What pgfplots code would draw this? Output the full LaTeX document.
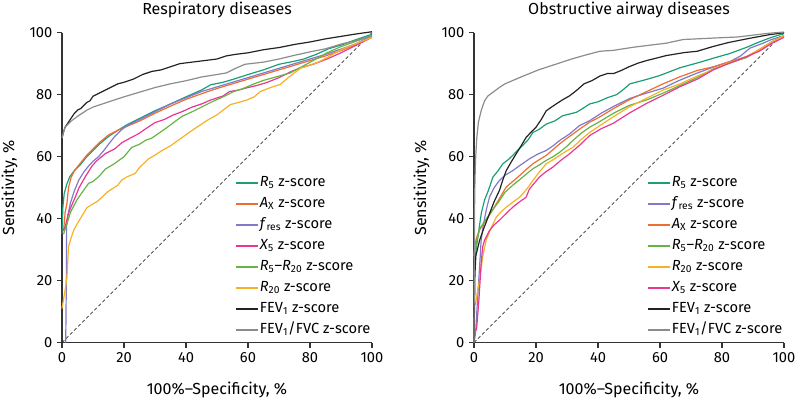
\documentclass[border=0pt]{standalone}
\usepackage{fontspec}
\setmainfont{Fira Sans}
\usepackage{pgfplots}
\pgfplotsset{compat=1.18}
\definecolor{cteal}{RGB}{27,158,119}
\definecolor{corange}{RGB}{236,110,50}
\definecolor{cpurple}{RGB}{128,122,200}
\definecolor{cpink}{RGB}{234,55,145}
\definecolor{cgreen}{RGB}{102,180,70}
\definecolor{cyellow}{RGB}{245,178,40}
\definecolor{cblack}{RGB}{35,35,35}
\definecolor{cgray}{RGB}{140,140,140}
\newcommand{\fs}{\fontsize{11}{13}\selectfont}
\newcommand{\fl}{\fontsize{12}{14}\selectfont}
\pgfplotsset{
  rocstyle/.style={
    scale only axis, width=232.5pt, height=232.5pt,
    xmin=0, xmax=100, ymin=0, ymax=100,
    axis lines*=left,
    xtick={0,20,...,100}, ytick={0,20,...,100},
    tick align=outside, major tick length=3.75pt,
    axis line style={line width=0.8pt, color=black!80},
    tick style={line width=0.8pt, color=black!80},
    font=\fs, ticklabel style={font=\fs},
    /pgf/number format/assume math mode=true,
    xlabel={100\%–Specificity, \%}, ylabel={Sensitivity, \%},
    xlabel style={at={(axis description cs:0.5,-0.152)}, anchor=center, font=\fl},
    ylabel style={at={(axis description cs:-0.169,0.5)}, anchor=center, font=\fl},
    legend style={draw=none, fill=none, at={(rel axis cs:1,0.012)}, anchor=south east,
      inner sep=0pt, row sep=2.75pt, font=\fs,
      nodes={inner sep=1pt, text height=8pt, text depth=3pt}},
    legend cell align=left,
    legend image code/.code={\draw[#1, line width=1.1pt] (0cm,0cm) -- (0.58cm,0cm);},
    clip=false,
    every axis plot/.append style={line width=0.9pt, line join=round},
  }
}
\begin{document}
\begin{tikzpicture}
\useasboundingbox (-46.5pt,-43pt) rectangle (551.25pt,257pt);
\begin{axis}[rocstyle, at={(0pt,0pt)}, anchor=south west]
\node[font=\fl, anchor=center] at (rel axis cs:0.5,1.072) {Respiratory diseases};
\addplot[forget plot, color=black!80, line width=0.6pt, dash pattern=on 2.5pt off 1.8pt] coordinates {(0,0)(100,100)};
% R5
\addplot[cteal] coordinates {(0,35) (0.3,44) (0.7,48) (1.5,51) (2.5,53.5) (4,55.5) (6,57.5) (8,60) (10,62) (12,64) (15,66.5) (18,68.5) (21,70.3) (25,72.3) (30,74.8) (35,77) (40,79.3) (45,81.5) (48,83.2) (52,84) (56,85.2) (60,86.5) (65,88) (70,89.8) (75,90.8) (78,91.5) (82,93) (86,94.8) (90,96) (95,97.8) (100,99.5)};
\addlegendentry{\textit{R}\textsubscript{5} z-score}
% AX
\addplot[corange] coordinates {(0.3,36) (0.6,37) (1,42) (1.6,45) (2.1,50) (3,53.5) (4,55.5) (6,58) (8,60.5) (10,62.5) (12,64.5) (15,67) (18,68.5) (21,69.8) (25,71.5) (30,74) (35,76.3) (40,78.5) (45,80.3) (50,82) (55,83.5) (60,85) (65,86.5) (70,88) (75,89.5) (80,91) (85,92.5) (90,94.2) (95,96.2) (100,98.7)};
\addlegendentry{\textit{A}\textsubscript{X} z-score}
% fres
\addplot[cpurple] coordinates {(1.2,0) (1.4,20) (1.5,38) (2,41.5) (2.7,45) (4,49) (5.4,52.4) (7,55) (8.6,57) (10,58.5) (11.8,60) (13.5,62) (15,64) (17,66.5) (19,68.5) (21,70) (25,72) (30,74.5) (35,77) (40,79) (45,81) (50,82.5) (55,84) (60,85.5) (65,87) (70,88.5) (75,90) (80,91.5) (85,93) (90,94.7) (95,96.5) (100,99)};
\addlegendentry{\textit{f}\textsubscript{res} z-score}
% X5
\addplot[cpink] coordinates {(0.5,36) (1.2,38) (2,41.5) (3,44) (4.3,47) (5.5,50) (7.5,53.5) (9.7,57) (11,58.5) (14,61) (17,62.5) (19.3,64.5) (22,66) (24.7,67.4) (27,69) (30,71) (33,72) (36,73.5) (38.7,74.5) (42,76) (45,77) (48,78.3) (52,79.6) (54,81) (57,81.5) (60,82.3) (63,83) (66,83.9) (70,85.5) (74,87.5) (77,88.7) (81,89.8) (85.5,91.5) (90,93.5) (95,96) (100,98.5)};
\addlegendentry{\textit{X}\textsubscript{5} z-score}
% R5-R20
\addplot[cgreen] coordinates {(0.5,35) (1.5,38) (2.7,42) (4.8,46) (6.5,48.5) (8.6,51.4) (10,52) (11.8,53.5) (14,56) (17,57.8) (20,60) (22.5,63) (25,64) (27,65.3) (29,66) (31,67.4) (34,69.5) (36,71) (38.7,73) (42,74.5) (45,76) (49,78) (52,79.3) (55.4,81) (58,81.8) (62,83.5) (65,84.6) (70,86) (73.6,87) (77,88.8) (81,91) (85.5,93.5) (90,95.5) (95,97.3) (100,99)};
\addlegendentry{\textit{R}\textsubscript{5}–\textit{R}\textsubscript{20} z-score}
% R20
\addplot[cyellow] coordinates {(0,11) (0.5,14) (1,17) (1.6,21) (2.1,31) (3,34) (3.8,36.3) (5,38.5) (6.5,41) (8,43.5) (9.5,44.5) (11.3,45.5) (13,47) (14.5,48.5) (16,49.5) (18,50.8) (19.3,52.5) (21,53.5) (23.6,54.6) (25,56.5) (27.9,59.3) (30,60.5) (32.3,62) (35,63.5) (38.5,66) (42,68.5) (46.8,71.7) (50,73.5) (54.3,76.8) (57,77.5) (59.7,78.3) (62,79.3) (64,81) (67,82.2) (70.4,83.3) (73,85.5) (76.9,88.5) (80,89.5) (83.3,90.8) (86.5,92.5) (90,94.5) (95,96.5) (100,98.5)};
\addlegendentry{\textit{R}\textsubscript{20} z-score}
% FEV1
\addplot[cblack] coordinates {(0,66) (0.5,68) (1,69.5) (2,71) (3,72.5) (4,74) (5,75) (6,75.5) (7,76.5) (8,77.5) (9,78) (10,79.5) (12,80.5) (14,81.5) (16,82.5) (18,83.5) (20,84) (23,85) (26,86.5) (29,87.5) (32,88) (35,89) (38,90) (42,90.5) (46,91) (50,91.5) (53,92.5) (56,93) (60,93.5) (65,94.5) (70,95.2) (75,96.2) (80,97) (85,98) (90,98.8) (95,99.6) (100,100.3)};
\addlegendentry{FEV\textsubscript{1} z-score}
% FEV1/FVC
\addplot[cgray] coordinates {(0,66) (0.5,68) (1,69.5) (2,70.5) (3,71.5) (5,73) (8,75) (10,76) (13,77) (16,78) (20,79.3) (25,80.8) (30,82.3) (35,83.5) (40,84.5) (45,85.7) (50,86.5) (53,87) (56,88.5) (59,89.8) (65,90.5) (70,91.5) (75,92.7) (80,93.8) (85,94.8) (90,96.3) (95,97.5) (100,99)};
\addlegendentry{FEV\textsubscript{1}/FVC z-score}
\end{axis}
\begin{axis}[rocstyle, at={(309pt,0pt)}, anchor=south west]
\node[font=\fl, anchor=center] at (rel axis cs:0.5,1.072) {Obstructive airway diseases};
\addplot[forget plot, color=black!80, line width=0.6pt, dash pattern=on 2.5pt off 1.8pt] coordinates {(0,0)(100,100)};
% R5
\addplot[cteal] coordinates {(0,22) (0.3,26.7) (0.8,31) (1.4,35) (1.8,38) (2.4,42) (3.4,46) (4.6,49) (6.1,53.4) (7.8,55.5) (9.3,57.7) (11,59) (12.5,60.4) (14,62) (15.7,63.6) (17.5,65.5) (19,67.8) (21,68.8) (23.3,70.5) (26,71.5) (28.6,73.2) (31,73.8) (33,74.3) (35,75.5) (37.3,77) (40,77.7) (43,79) (46,80) (48,81.5) (50.3,83.5) (53,84.2) (56,85) (60,86.2) (66.5,88.7) (73,90.5) (78,92) (82.6,93.3) (88,95.3) (92,97) (96,98.5) (100,99.7)};
\addlegendentry{\textit{R}\textsubscript{5} z-score}
% fres
\addplot[cpurple] coordinates {(0,0) (0.5,3) (1.2,14.8) (1.8,24.4) (2.3,33) (3,38) (4,43) (5,47) (6.5,50) (8.2,52.3) (10,54) (12.5,55.5) (15,57.3) (17.9,59.3) (20.5,60.8) (23.3,62) (25.5,63.5) (27.6,65.2) (30.8,67.3) (34,70) (37.3,71.6) (41,74) (45,76.2) (50.3,78.8) (55,80.3) (61,82.1) (66,84.5) (71.8,86.9) (77,88.8) (82.6,90.7) (86,92.5) (89,95) (93,96.5) (96,97.8) (100,99)};
\addlegendentry{\textit{f}\textsubscript{res} z-score}
% AX
\addplot[corange] coordinates {(0,28) (0.3,31) (0.7,33.5) (1.8,36.4) (3.9,39.5) (5.5,42) (7.2,44.8) (8.8,47.5) (10.4,50.2) (12.5,52) (14.7,53.9) (17,56) (19,57.7) (21,59) (23.3,60.4) (25.5,62.3) (27.6,64.1) (29.8,65.8) (31.9,67.3) (34.5,69.2) (37.3,71.1) (40,72.5) (45,75.5) (50,78.3) (55.7,81) (61,83.5) (66.5,85.8) (72,87.8) (77.2,89) (82,90.5) (88,92.3) (92,94.5) (96,97) (100,99)};
\addlegendentry{\textit{A}\textsubscript{X} z-score}
% R5-R20
\addplot[cgreen] coordinates {(0.5,30) (1,33.5) (2,37) (4,40) (6,42.8) (8,45.5) (10,48.5) (12.5,50.8) (15,52.8) (17,54.5) (19,56.1) (21,57.3) (23.3,58.8) (25.5,60) (27.6,61.4) (29.8,63.2) (31.9,65.2) (34.5,67.5) (37.3,69.5) (40,71) (45,74) (50,76.5) (55.7,78.3) (61,80.5) (66.5,83) (72,85.5) (77.2,88.3) (82,90) (88,92) (92,94.5) (96,97) (100,99)};
\addlegendentry{\textit{R}\textsubscript{5}–\textit{R}\textsubscript{20} z-score}
% R20
\addplot[cyellow] coordinates {(0,12) (0.5,12.5) (1.2,17) (1.8,20.2) (2.8,27.7) (3.9,33) (5.5,37) (7.2,40.5) (8.8,42.3) (10.4,43.7) (12.5,45.3) (14.7,46.9) (17,49.5) (19,52.3) (21,55) (23.3,57.7) (25.5,59) (27.6,60.4) (29.8,61.8) (31.9,63) (34.5,65.5) (37.3,67.8) (41,70.3) (45,72.9) (50,76) (55,78.5) (61,81.5) (66.5,83.5) (72,86) (77,88) (82,90.2) (88,92.3) (92,94.5) (96,97) (100,99)};
\addlegendentry{\textit{R}\textsubscript{20} z-score}
% X5
\addplot[cpink] coordinates {(0.8,4) (1.6,14) (2.3,25.5) (2.8,30.9) (3.4,33) (5,36.2) (6.5,38) (8.2,39.5) (10,41.3) (12.5,43.7) (14.5,45.3) (16.8,46.9) (17.9,49.6) (19.5,51.5) (21.1,53.4) (23,55) (25.4,56.6) (28,58.8) (30.8,60.9) (34.2,63.8) (37.3,66.8) (41,69) (45,70.8) (50,74) (55.7,77.2) (61,79.8) (66.5,82.6) (72,85) (77.2,88) (82,90) (88,92.3) (92,94) (96,96.5) (100,98.5)};
\addlegendentry{\textit{X}\textsubscript{5} z-score}
% FEV1
\addplot[cblack] coordinates {(0,0) (0.3,22) (0.6,28) (1.8,33) (3.2,37) (5,41.6) (6.5,45.5) (8.2,49.1) (9.3,52.5) (10.4,55.5) (12,58.3) (13.6,60.9) (15.2,63.5) (16.8,66.2) (18.5,68) (20,69.5) (21.7,72) (23.3,74.8) (25,76) (26.5,77) (28.5,78.3) (30.8,79.6) (33,81.3) (35.5,83.5) (38,84.5) (40.6,86) (43,86.8) (45,86.8) (47.5,87.8) (50,89) (53,90.2) (55.7,91) (62,92.6) (68,93.6) (72,94) (77,95.5) (82,96.8) (89,98.2) (95,99.3) (100,100)};
\addlegendentry{FEV\textsubscript{1} z-score}
% FEV1/FVC
\addplot[cgray] coordinates {(0,0) (0.15,40) (0.3,52) (0.5,59) (0.9,66) (1.4,71) (2.3,74.8) (3.4,78) (4.5,79.6) (6,80.7) (8,82.2) (10,83.5) (15.4,85.8) (20.8,88) (26,89.7) (31.5,91.5) (36,92.8) (40.6,94) (45,94.3) (51.4,95.3) (57,96) (62,96.6) (67.5,97.8) (72,98) (78,98.3) (85,98.6) (90,99.2) (95,99.8) (100,100.2)};
\addlegendentry{FEV\textsubscript{1}/FVC z-score}
\end{axis}
\end{tikzpicture}
\end{document}
